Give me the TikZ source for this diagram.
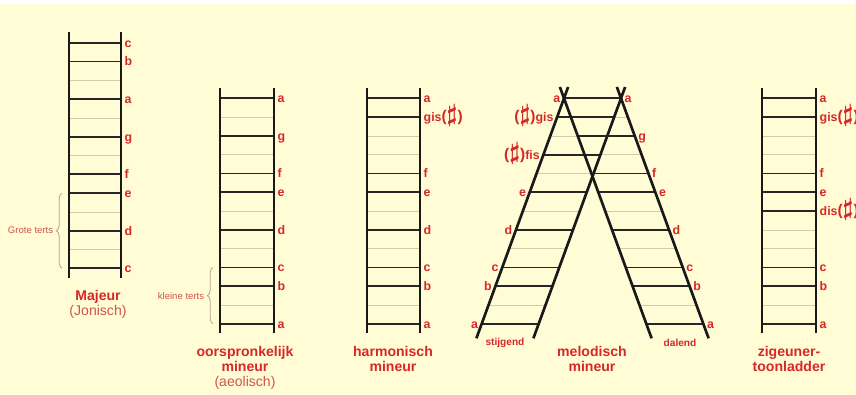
\documentclass[tikz,border=0pt]{standalone}
\usepackage{fontspec}
\setmainfont{Liberation Sans}
\usetikzlibrary{positioning,decorations.pathreplacing}

\definecolor{achter}{RGB}{255,252,214}
\definecolor{toonrood}{RGB}{214,40,40}
\definecolor{zachtrood}{RGB}{206,86,76}
\definecolor{tussen}{RGB}{206,204,172}
\definecolor{accolade}{RGB}{176,168,140}

\tikzset{
  rail/.style={line width=1.9pt, black!90},
  hele/.style={line width=1.25pt, black!85},
  halve/.style={line width=0.5pt, tussen},
  toon/.style={font=\fontsize{8.8}{9}\selectfont\bfseries, text=toonrood, inner sep=1pt, text height=1.5ex, text depth=.3ex},
  titel/.style={font=\fontsize{10}{10.7}\selectfont\bfseries, text=toonrood, align=center, inner sep=0pt},
  klein/.style={font=\fontsize{7.2}{8}\selectfont\bfseries, text=toonrood, inner sep=1pt},
  terts/.style={font=\fontsize{6.8}{8}\selectfont, text=zachtrood, inner sep=1pt},
  acc/.style={accolade, line width=0.6pt, decorate, decoration={brace, amplitude=4pt}}
}
\newcommand{\kruis}{{\fontsize{11}{11}\selectfont(}{\fontsize{17}{17}\selectfont\boldmath$\sharp$}{\fontsize{11}{11}\selectfont)}}

\begin{document}
\begin{tikzpicture}[x=0.025cm, y=-0.025cm]
\useasboundingbox (0,0) rectangle (856,395);
\fill[achter] (0,4) rectangle (856,395);

% Majeur
\begin{scope}[shift={(69,42.7)}]
\foreach \k in {2,4,6,9,11} \draw[halve] (0,18.8*\k) -- (52,18.8*\k);
\foreach \k/\t in {0/c,1/b,3/a,5/g,7/f,8/e,10/d,12/c} {
  \draw[hele] (0,18.8*\k) -- (52,18.8*\k);
  \node[toon, anchor=west] (maj-\k) at (54,18.8*\k) {\t};
}
\draw[rail] (0,-10.7) -- (0,235.3);
\draw[rail] (52,-10.7) -- (52,235.3);
\draw[acc] (-7,225.6) -- (-7,150.4) node[midway, left=5pt, terts] (grote) {Grote terts};
\end{scope}
\node[titel, anchor=north] (majeur) at (98,290) {Majeur\\{\mdseries\color{zachtrood}(Jonisch)}};

% oorspronkelijk mineur
\begin{scope}[shift={(220,98.3)}]
\foreach \k in {1,3,6,8,11} \draw[halve] (0,18.8*\k) -- (54,18.8*\k);
\foreach \k/\t in {0/a,2/g,4/f,5/e,7/d,9/c,10/b,12/a} {
  \draw[hele] (0,18.8*\k) -- (54,18.8*\k);
  \node[toon, anchor=west] (oor-\k) at (56,18.8*\k) {\t};
}
\draw[rail] (0,-10.3) -- (0,234.7);
\draw[rail] (54,-10.3) -- (54,234.7);
\draw[acc] (-7,225.6) -- (-7,169.2) node[midway, left=5pt, terts] (kleine) {kleine terts};
\end{scope}
\node[titel, anchor=north] (oorspr) at (245,346) {oorspronkelijk\\mineur\\{\mdseries\color{zachtrood}(aeolisch)}};

% harmonisch mineur
\begin{scope}[shift={(367,98.3)}]
\foreach \k in {2,3,6,8,11} \draw[halve] (0,18.8*\k) -- (53,18.8*\k);
\foreach \k/\t in {0/a,1/gis\kruis,4/f,5/e,7/d,9/c,10/b,12/a} {
  \draw[hele] (0,18.8*\k) -- (53,18.8*\k);
  \node[toon, anchor=west] (har-\k) at (55,18.8*\k) {\t};
}
\draw[rail] (0,-10.3) -- (0,234.7);
\draw[rail] (53,-10.3) -- (53,234.7);
\end{scope}
\node[titel, anchor=north] (harm) at (393,346) {harmonisch\\mineur};

% melodisch mineur: stijgend
\begin{scope}[shift={(564,98.3)}, xslant=0.365]
\foreach \k in {2,4,6,8,11} \draw[halve] (0,18.8*\k) -- (57,18.8*\k);
\end{scope}
% melodisch mineur: dalend
\begin{scope}[shift={(564,98.3)}, xslant=-0.365]
\foreach \k in {1,3,6,8,11} \draw[halve] (0,18.8*\k) -- (57,18.8*\k);
\end{scope}
\begin{scope}[shift={(564,98.3)}, xslant=0.365]
\foreach \k/\t in {0/a,1/\kruis gis,3/\kruis fis,5/e,7/d,9/c,10/b,12/a} {
  \draw[hele] (0,18.8*\k) -- (57,18.8*\k);
  \node[toon, anchor=east] (sti-\k) at (-2,18.8*\k) {\t};
}
\draw[rail] (0,-11.3) -- (0,240);
\draw[rail] (57,-11.3) -- (57,240);
\end{scope}
\begin{scope}[shift={(564,98.3)}, xslant=-0.365]
\foreach \k/\t in {0/a,2/g,4/f,5/e,7/d,9/c,10/b,12/a} {
  \draw[hele] (0,18.8*\k) -- (57,18.8*\k);
  \node[toon, anchor=west] (dal-\k) at (59,18.8*\k) {\t};
}
\draw[rail] (0,-11.3) -- (0,240);
\draw[rail] (57,-11.3) -- (57,240);
\end{scope}
\node[klein] (stijgend) at (505,343) {stijgend};
\node[klein] (dalend) at (680,343) {dalend};
\node[titel, anchor=north] (melod) at (592,346) {melodisch\\mineur};

% zigeunertoonladder
\begin{scope}[shift={(762,98.3)}]
\foreach \k in {2,3,7,8,11} \draw[halve] (0,18.8*\k) -- (54,18.8*\k);
\foreach \k/\t in {0/a,1/gis\kruis,4/f,5/e,6/dis\kruis,9/c,10/b,12/a} {
  \draw[hele] (0,18.8*\k) -- (54,18.8*\k);
  \node[toon, anchor=west] (zig-\k) at (56,18.8*\k) {\t};
}
\draw[rail] (0,-10.3) -- (0,234.7);
\draw[rail] (54,-10.3) -- (54,234.7);
\end{scope}
\node[titel, anchor=north] (zig) at (789,346) {zigeuner-\\toonladder};
\end{tikzpicture}
\end{document}
